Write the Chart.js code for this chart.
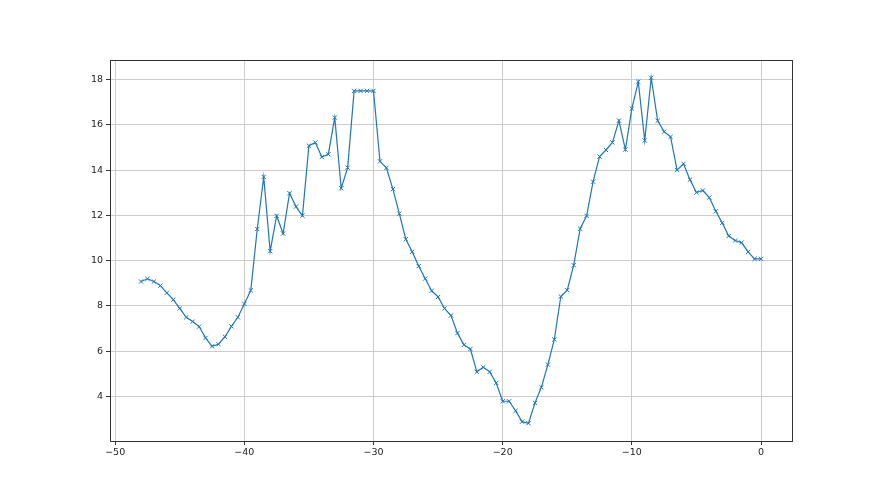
<!DOCTYPE html>
<html>
<head>
<meta charset="utf-8">
<script src="https://cdn.jsdelivr.net/npm/chart.js@4.4.1/dist/chart.umd.min.js"></script>
<style>
  html, body { margin: 0; padding: 0; background: #ffffff; }
  #wrap { width: 880px; height: 495px; }
</style>
</head>
<body>
<div id="wrap"><canvas id="chart" width="880" height="495"></canvas></div>
<script>
const xValues = [
  -48, -47.5, -47, -46.5, -46, -45.5, -45, -44.5, -44, -43.5,
  -43, -42.5, -42, -41.5, -41, -40.5, -40, -39.5, -39, -38.5,
  -38, -37.5, -37, -36.5, -36, -35.5, -35, -34.5, -34, -33.5,
  -33, -32.5, -32, -31.5, -31, -30.5, -30, -29.5, -29, -28.5,
  -28, -27.5, -27, -26.5, -26, -25.5, -25, -24.5, -24, -23.5,
  -23, -22.5, -22, -21.5, -21, -20.5, -20, -19.5, -19, -18.5,
  -18, -17.5, -17, -16.5, -16, -15.5, -15, -14.5, -14, -13.5,
  -13, -12.5, -12, -11.5, -11, -10.5, -10, -9.5, -9, -8.5,
  -8, -7.5, -7, -6.5, -6, -5.5, -5, -4.5, -4, -3.5,
  -3, -2.5, -2, -1.5, -1, -0.5, 0
];

const yValues = [
  9.08, 9.2, 9.08, 8.9, 8.58, 8.28, 7.89, 7.5, 7.31, 7.09,
  6.59, 6.22, 6.31, 6.64, 7.1, 7.5, 8.09, 8.69, 11.4, 13.7,
  10.42, 11.98, 11.2, 12.98, 12.39, 11.99, 15.08, 15.22, 14.58, 14.7,
  16.32, 13.2, 14.11, 17.5, 17.5, 17.5, 17.5, 14.39, 14.1, 13.16,
  12.08, 10.95, 10.39, 9.76, 9.21, 8.67, 8.4, 7.89, 7.58, 6.8,
  6.28, 6.1, 5.09, 5.29, 5.09, 4.6, 3.79, 3.79, 3.37, 2.89,
  2.82, 3.72, 4.41, 5.41, 6.52, 8.42, 8.7, 9.8, 11.41, 11.98,
  13.49, 14.6, 14.89, 15.22, 16.19, 14.91, 16.72, 17.9, 15.31, 18.08,
  16.18, 15.7, 15.47, 14.0, 14.28, 13.58, 13.01, 13.1, 12.79, 12.18,
  11.67, 11.09, 10.89, 10.8, 10.39, 10.08, 10.08
];

const xTicks = [-50, -40, -30, -20, -10, 0];
const yTicks = [4, 6, 8, 10, 12, 14, 16, 18];

const lineColor = "#1f77b4";
const tickFont = { family: "DejaVu Sans", size: 9.5 };

// matplotlib draws a full box around the axes
const framePlugin = {
  id: "frame",
  afterDraw(chart) {
    const { ctx, chartArea } = chart;
    ctx.save();
    ctx.strokeStyle = "#333333";
    ctx.lineWidth = 1;
    ctx.strokeRect(
      Math.round(chartArea.left) + 0.5,
      Math.round(chartArea.top) + 0.5,
      Math.round(chartArea.right - chartArea.left),
      Math.round(chartArea.bottom - chartArea.top)
    );
    ctx.restore();
  }
};

const minusSign = (value) => String(value).replace("-", "\u2212");

new Chart(document.getElementById("chart").getContext("2d"), {
  type: "line",
  data: {
    datasets: [
      {
        data: xValues.map((x, i) => ({ x, y: yValues[i] })),
        borderColor: lineColor,
        backgroundColor: lineColor,
        borderWidth: 1.2,
        pointStyle: "crossRot",
        pointRadius: 3,
        pointBorderWidth: 1,
        pointBorderColor: lineColor,
        tension: 0,
        fill: false
      }
    ]
  },
  options: {
    responsive: false,
    animation: false,
    layout: { padding: { top: 60, right: 88, bottom: 0, left: 0 } },
    plugins: {
      legend: { display: false },
      tooltip: { enabled: false }
    },
    scales: {
      x: {
        type: "linear",
        min: -50.4,
        max: 2.4,
        afterBuildTicks: (scale) => {
          scale.ticks = xTicks.map((value) => ({ value }));
        },
        afterFit: (scale) => {
          scale.height = 54;
        },
        border: { display: false },
        grid: {
          color: "#cccccc",
          lineWidth: 1,
          tickColor: "#333333",
          tickLength: 4
        },
        ticks: {
          color: "#222222",
          font: tickFont,
          padding: 2,
          maxRotation: 0,
          callback: (value) => minusSign(value)
        }
      },
      y: {
        min: 2.035,
        max: 18.865,
        afterBuildTicks: (scale) => {
          scale.ticks = yTicks.map((value) => ({ value }));
        },
        afterFit: (scale) => {
          scale.width = 110;
        },
        border: { display: false },
        grid: {
          color: "#cccccc",
          lineWidth: 1,
          tickColor: "#333333",
          tickLength: 4
        },
        ticks: {
          color: "#222222",
          font: tickFont,
          padding: 3,
          callback: (value) => minusSign(value)
        }
      }
    }
  },
  plugins: [framePlugin]
});
</script>
</body>
</html>
